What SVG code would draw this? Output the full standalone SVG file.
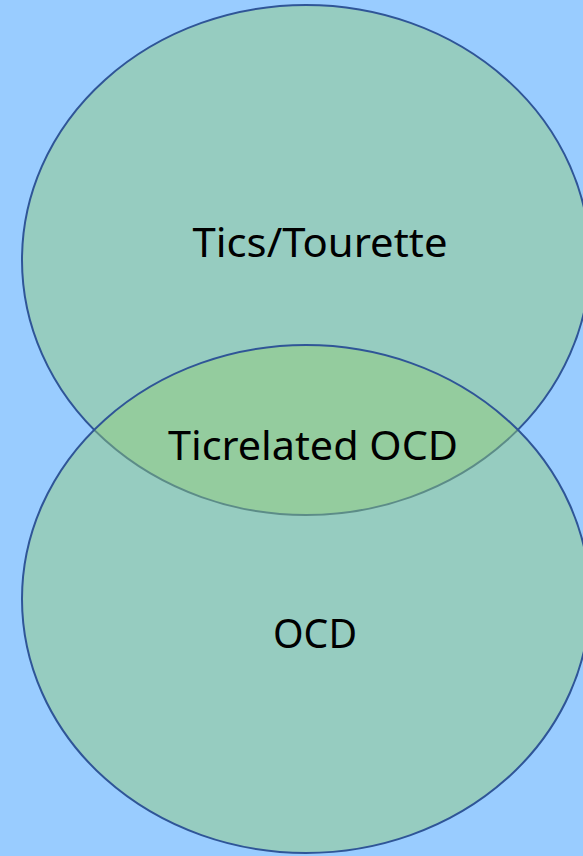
<svg xmlns="http://www.w3.org/2000/svg" width="583" height="856" viewBox="0 0 583 856">
<style>
.set{fill:rgb(146,204,118);fill-opacity:0.46;stroke:#2F5597;stroke-width:2}
.lbl{font-family:"Noto Sans","Open Sans",sans-serif;font-size:40px;fill:#000;text-anchor:middle}
</style>
<rect width="583" height="856" fill="#99CCFF"/>
<g id="tics">
<ellipse class="set" cx="306" cy="260" rx="284" ry="255"/>
<text class="lbl" x="320" y="257" textLength="255" lengthAdjust="spacingAndGlyphs">Tics/Tourette</text>
</g>
<g id="ocd">
<ellipse class="set" cx="306" cy="599" rx="284" ry="254"/>
<text class="lbl" x="315" y="648" textLength="84" lengthAdjust="spacingAndGlyphs">OCD</text>
</g>
<g id="overlap">
<text class="lbl" x="313" y="460" textLength="290" lengthAdjust="spacingAndGlyphs">Ticrelated OCD</text>
</g>
<g id="connectors"/>
</svg>
